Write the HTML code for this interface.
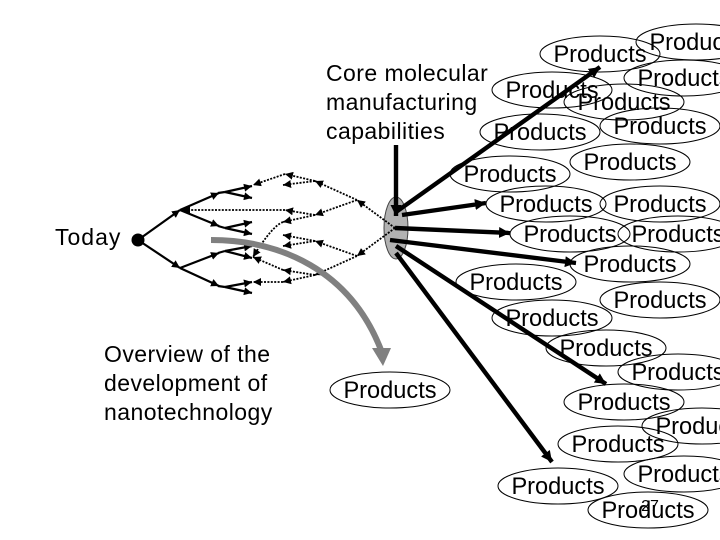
<!DOCTYPE html>
<html>
<head>
<meta charset="utf-8">
<style>
html,body{margin:0;padding:0;background:#fff;width:720px;height:540px;overflow:hidden}
svg{display:block}
text{font-family:"Liberation Sans",sans-serif;fill:#000}
.t{font-size:23px;letter-spacing:.45px}
.p{font-size:23.6px;text-anchor:middle}
.e{fill:none;stroke:#000;stroke-width:1}
.s{fill:none;stroke:#000;stroke-width:2.2;marker-end:url(#m)}
.f{fill:none;stroke:#000;stroke-width:2.2}
.d{fill:none;stroke:#000;stroke-width:1.8;stroke-dasharray:2 1.4;marker-end:url(#m)}
.b{fill:none;stroke:#000;stroke-width:4.4;marker-end:url(#h)}
</style>
</head>
<body>
<svg width="720" height="540" viewBox="0 0 720 540" xmlns="http://www.w3.org/2000/svg">
<defs>
<marker id="m" markerUnits="userSpaceOnUse" markerWidth="10" markerHeight="10" refX="8" refY="4" orient="auto"><path d="M0 0L8 4L0 8Z" fill="#000"/></marker>
<marker id="h" markerUnits="userSpaceOnUse" markerWidth="14" markerHeight="14" refX="11" refY="5.5" orient="auto"><path d="M0 0L11 5.5L0 11Z" fill="#000"/></marker>
</defs>

<ellipse cx="396" cy="228" rx="12" ry="31" fill="#b2b2b2" stroke="#444" stroke-width="1"/>

<circle cx="138" cy="240" r="6.5" fill="#000"/>
<!-- solid tree -->
<path class="s" d="M138 240L180 210"/>
<path class="s" d="M138 240L180 268"/>
<path class="s" d="M180 210L219 193"/>
<path class="s" d="M180 210L219 226"/>
<path class="s" d="M180 268L219 253"/>
<path class="s" d="M180 268L219 286"/>
<path class="f" d="M218 193L225 192"/>
<path class="f" d="M218 226L225 228"/>
<path class="f" d="M218 253L225 251"/>
<path class="f" d="M218 286L225 287"/>
<path class="s" d="M225 192L252 186"/>
<path class="s" d="M225 192L252 198"/>
<path class="s" d="M225 228L252 222"/>
<path class="s" d="M225 228L252 234"/>
<path class="s" d="M225 251L252 246"/>
<path class="s" d="M225 251L252 258"/>
<path class="s" d="M225 287L252 282"/>
<path class="s" d="M225 287L252 293"/>

<!-- dotted tree -->
<path class="d" d="M395 228L357 200"/>
<path class="d" d="M395 228L357 256"/>
<path class="d" d="M357 200L315 181"/>
<path class="d" d="M357 200L315 215"/>
<path class="d" d="M357 256L315 241"/>
<path class="d" d="M357 256L315 275"/>
<path class="d" d="M315 181L285 174"/>
<path class="d" d="M315 181L283 185"/>
<path class="d" d="M315 215L285 210"/>
<path class="d" d="M315 215L283 222"/>
<path class="d" d="M315 241L283 235"/>
<path class="d" d="M315 241L283 246"/>
<path class="d" d="M315 275L283 270"/>
<path class="d" d="M315 275L283 282"/>
<path class="d" d="M285 174L253 185"/>
<path class="d" d="M285 210L182 210"/>
<path class="d" d="M283 222Q272 226 253 257"/>
<path class="d" d="M283 270L253 257"/>
<path class="d" d="M283 282L253 282"/>

<!-- grey curved arrow -->
<path d="M211 240C280 240 350 270 381 350" fill="none" stroke="#808080" stroke-width="6"/>
<path d="M372 348L391 348L383 366Z" fill="#808080"/>

<!-- ellipses -->
<ellipse class="e" cx="600" cy="54" rx="60" ry="18"/>
<ellipse class="e" cx="696" cy="42" rx="60" ry="18"/>
<ellipse class="e" cx="684" cy="78" rx="60" ry="18"/>
<ellipse class="e" cx="552" cy="90" rx="60" ry="18"/>
<ellipse class="e" cx="624" cy="102" rx="60" ry="18"/>
<ellipse class="e" cx="540" cy="132" rx="60" ry="18"/>
<ellipse class="e" cx="660" cy="126" rx="60" ry="18"/>
<ellipse class="e" cx="630" cy="162" rx="60" ry="18"/>
<ellipse class="e" cx="510" cy="174" rx="60" ry="18"/>
<ellipse class="e" cx="546" cy="204" rx="60" ry="18"/>
<ellipse class="e" cx="660" cy="204" rx="60" ry="18"/>
<ellipse class="e" cx="570" cy="234" rx="60" ry="18"/>
<ellipse class="e" cx="678" cy="234" rx="60" ry="18"/>
<ellipse class="e" cx="630" cy="264" rx="60" ry="18"/>
<ellipse class="e" cx="516" cy="282" rx="60" ry="18"/>
<ellipse class="e" cx="660" cy="300" rx="60" ry="18"/>
<ellipse class="e" cx="552" cy="318" rx="60" ry="18"/>
<ellipse class="e" cx="606" cy="348" rx="60" ry="18"/>
<ellipse class="e" cx="678" cy="372" rx="60" ry="18"/>
<ellipse class="e" cx="624" cy="402" rx="60" ry="18"/>
<ellipse class="e" cx="702" cy="426" rx="60" ry="18"/>
<ellipse class="e" cx="618" cy="444" rx="60" ry="18"/>
<ellipse class="e" cx="684" cy="474" rx="60" ry="18"/>
<ellipse class="e" cx="558" cy="486" rx="60" ry="18"/>
<ellipse class="e" cx="648" cy="510" rx="60" ry="18"/>
<ellipse class="e" cx="390" cy="390" rx="60" ry="18"/>

<!-- ellipse labels -->
<text class="p" x="600" y="62">Products</text>
<text class="p" x="696" y="50">Products</text>
<text class="p" x="684" y="86">Products</text>
<text class="p" x="552" y="98">Products</text>
<text class="p" x="624" y="110">Products</text>
<text class="p" x="540" y="140">Products</text>
<text class="p" x="660" y="134">Products</text>
<text class="p" x="630" y="170">Products</text>
<text class="p" x="510" y="182">Products</text>
<text class="p" x="546" y="212">Products</text>
<text class="p" x="660" y="212">Products</text>
<text class="p" x="570" y="242">Products</text>
<text class="p" x="678" y="242">Products</text>
<text class="p" x="630" y="272">Products</text>
<text class="p" x="516" y="290">Products</text>
<text class="p" x="660" y="308">Products</text>
<text class="p" x="552" y="326">Products</text>
<text class="p" x="606" y="356">Products</text>
<text class="p" x="678" y="380">Products</text>
<text class="p" x="624" y="410">Products</text>
<text class="p" x="702" y="434">Products</text>
<text class="p" x="618" y="452">Products</text>
<text class="p" x="684" y="482">Products</text>
<text class="p" x="558" y="494">Products</text>
<text class="p" x="648" y="518">Products</text>
<text class="p" x="390" y="398">Products</text>
<text x="650" y="511" style="font-size:16px;text-anchor:middle">27</text>

<!-- thick arrows -->
<path class="b" d="M396 145L396 216"/>
<path class="b" d="M396 212L600 67"/>
<path class="b" d="M402 215L486 203"/>
<path class="b" d="M395 228L510 233"/>
<path class="b" d="M390 240L576 263"/>
<path class="b" d="M396 246L606 384"/>
<path class="b" d="M396 253L552 462"/>

<!-- labels -->
<text class="t" x="326" y="81">Core molecular</text>
<text class="t" x="326" y="110">manufacturing</text>
<text class="t" x="326" y="139">capabilities</text>
<text class="t" x="55" y="245" style="letter-spacing:1px">Today</text>
<text class="t" x="104" y="362">Overview of the</text>
<text class="t" x="104" y="391">development of</text>
<text class="t" x="104" y="420">nanotechnology</text>
</svg>
</body>
</html>
